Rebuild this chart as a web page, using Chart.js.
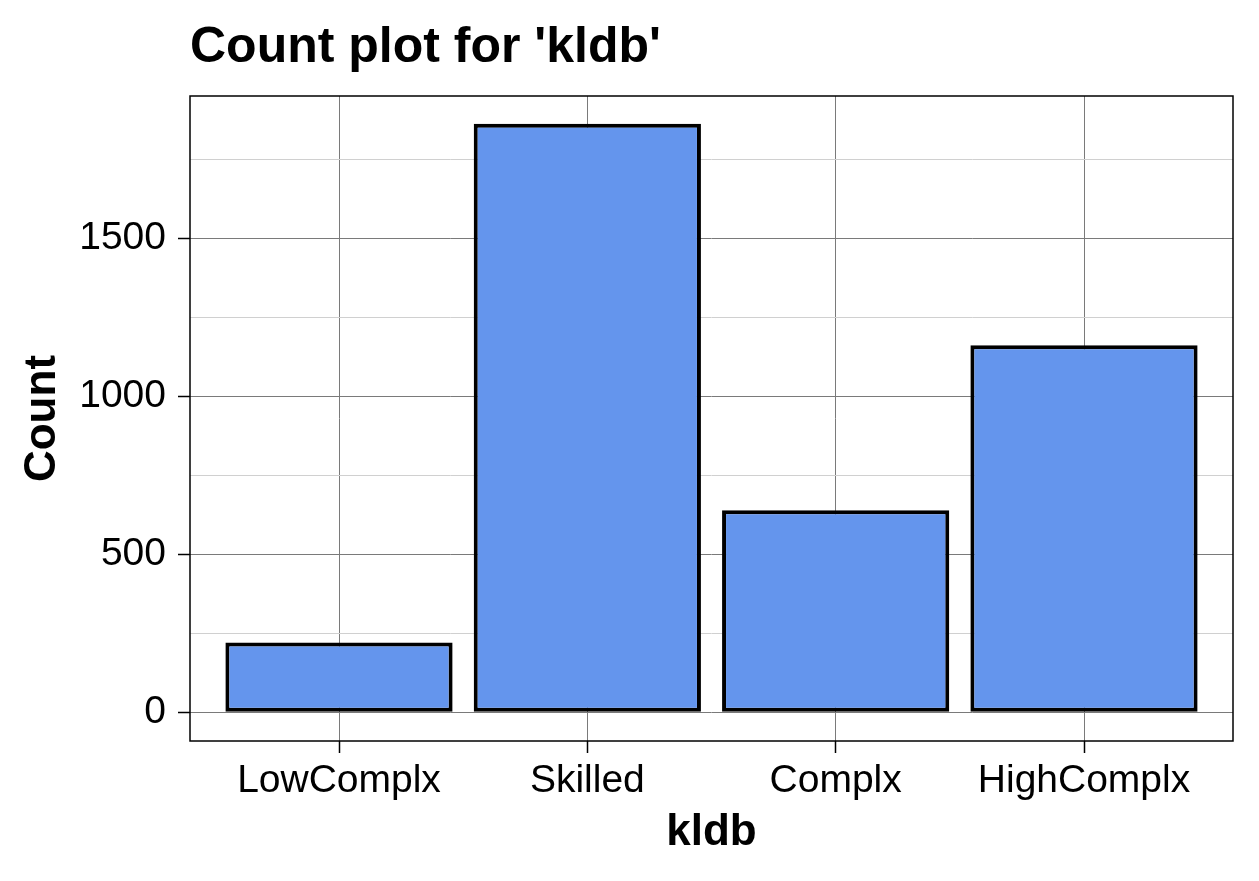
<!DOCTYPE html>
<html>
<head>
<meta charset="utf-8">
<script src="https://cdn.jsdelivr.net/npm/chart.js@4.4.0/dist/chart.umd.min.js"></script>
<style>
html, body { margin: 0; padding: 0; background: #fff; }
#wrap { width: 1259px; height: 881px; }
</style>
</head>
<body>
<div id="wrap"><canvas id="countChart" width="1259" height="881"></canvas></div>
<script>
const categories = ['LowComplx', 'Skilled', 'Complx', 'HighComplx'];
const counts = [221, 1862, 639, 1161];
const yTicks = [0, 250, 500, 750, 1000, 1250, 1500, 1750];
const yMajor = [0, 500, 1000, 1500];

const FONT = "'Liberation Sans', Arial, sans-serif";

// black frame round the panel, like theme_linedraw
const panelBorder = {
  id: 'panelBorder',
  afterDatasetsDraw(chart) {
    const a = chart.chartArea;
    const c = chart.ctx;
    c.save();
    c.strokeStyle = '#000';
    c.lineWidth = 1.5;
    c.strokeRect(a.left, a.top, a.right - a.left, a.bottom - a.top);
    c.restore();
  }
};

const ctx = document.getElementById('countChart').getContext('2d');
const countChart = new Chart(ctx, {
  type: 'bar',
  data: {
    datasets: [{
      label: 'Count',
      data: categories.map((c, i) => ({ x: i + 1, y: counts[i] })),
      backgroundColor: '#6495ED',
      borderColor: '#000',
      borderWidth: 4,
      borderSkipped: false,
      barPercentage: 0.915,
      categoryPercentage: 1.0
    }]
  },
  options: {
    responsive: false,
    devicePixelRatio: 1,
    animation: false,
    layout: { padding: { left: 0, right: 26, top: 0, bottom: 0 } },
    plugins: {
      legend: { display: false },
      tooltip: { enabled: false },
      title: {
        display: true,
        text: "Count plot for 'kldb'",
        align: 'start',
        fullSize: false,
        color: '#000',
        font: { family: FONT, size: 50, weight: 'bold' },
        padding: { top: 18, bottom: 18 }
      }
    },
    scales: {
      x: {
        type: 'linear',
        min: 0.4,
        max: 4.6,
        offset: false,
        afterBuildTicks: (s) => { s.ticks = categories.map((c, i) => ({ value: i + 1 })); },
        afterFit: (s) => { s.height = 140; },
        grid: {
          offset: false,
          color: '#7a7a7a',
          lineWidth: 1,
          tickColor: '#000',
          tickLength: 12,
          tickWidth: 1.5
        },
        border: { display: false },
        ticks: {
          color: '#000',
          font: { family: FONT, size: 39 },
          padding: 5,
          maxRotation: 0,
          autoSkip: false,
          callback: (v) => categories[v - 1]
        },
        title: {
          display: true,
          text: 'kldb',
          color: '#000',
          font: { family: FONT, size: 44, weight: 'bold' },
          padding: { top: 0, bottom: 22 }
        }
      },
      y: {
        min: -91,
        max: 1950,
        afterBuildTicks: (s) => { s.ticks = yTicks.map(v => ({ value: v })); },
        afterFit: (s) => { s.width = 190; },
        grid: {
          color: (c) => yMajor.includes(c.tick.value) ? '#7a7a7a' : '#d0d0d0',
          lineWidth: 1,
          tickColor: (c) => yMajor.includes(c.tick.value) ? '#000' : 'rgba(0,0,0,0)',
          tickLength: 12,
          tickWidth: 1.5
        },
        border: { display: false },
        ticks: {
          color: '#000',
          font: { family: FONT, size: 39 },
          padding: 12,
          autoSkip: false,
          callback: (v) => yMajor.includes(v) ? String(v) : ''
        },
        title: {
          display: true,
          text: 'Count',
          color: '#000',
          font: { family: FONT, size: 44, weight: 'bold' },
          padding: { top: 16, bottom: 0 }
        }
      }
    }
  },
  plugins: [panelBorder]
});
</script>
</body>
</html>
